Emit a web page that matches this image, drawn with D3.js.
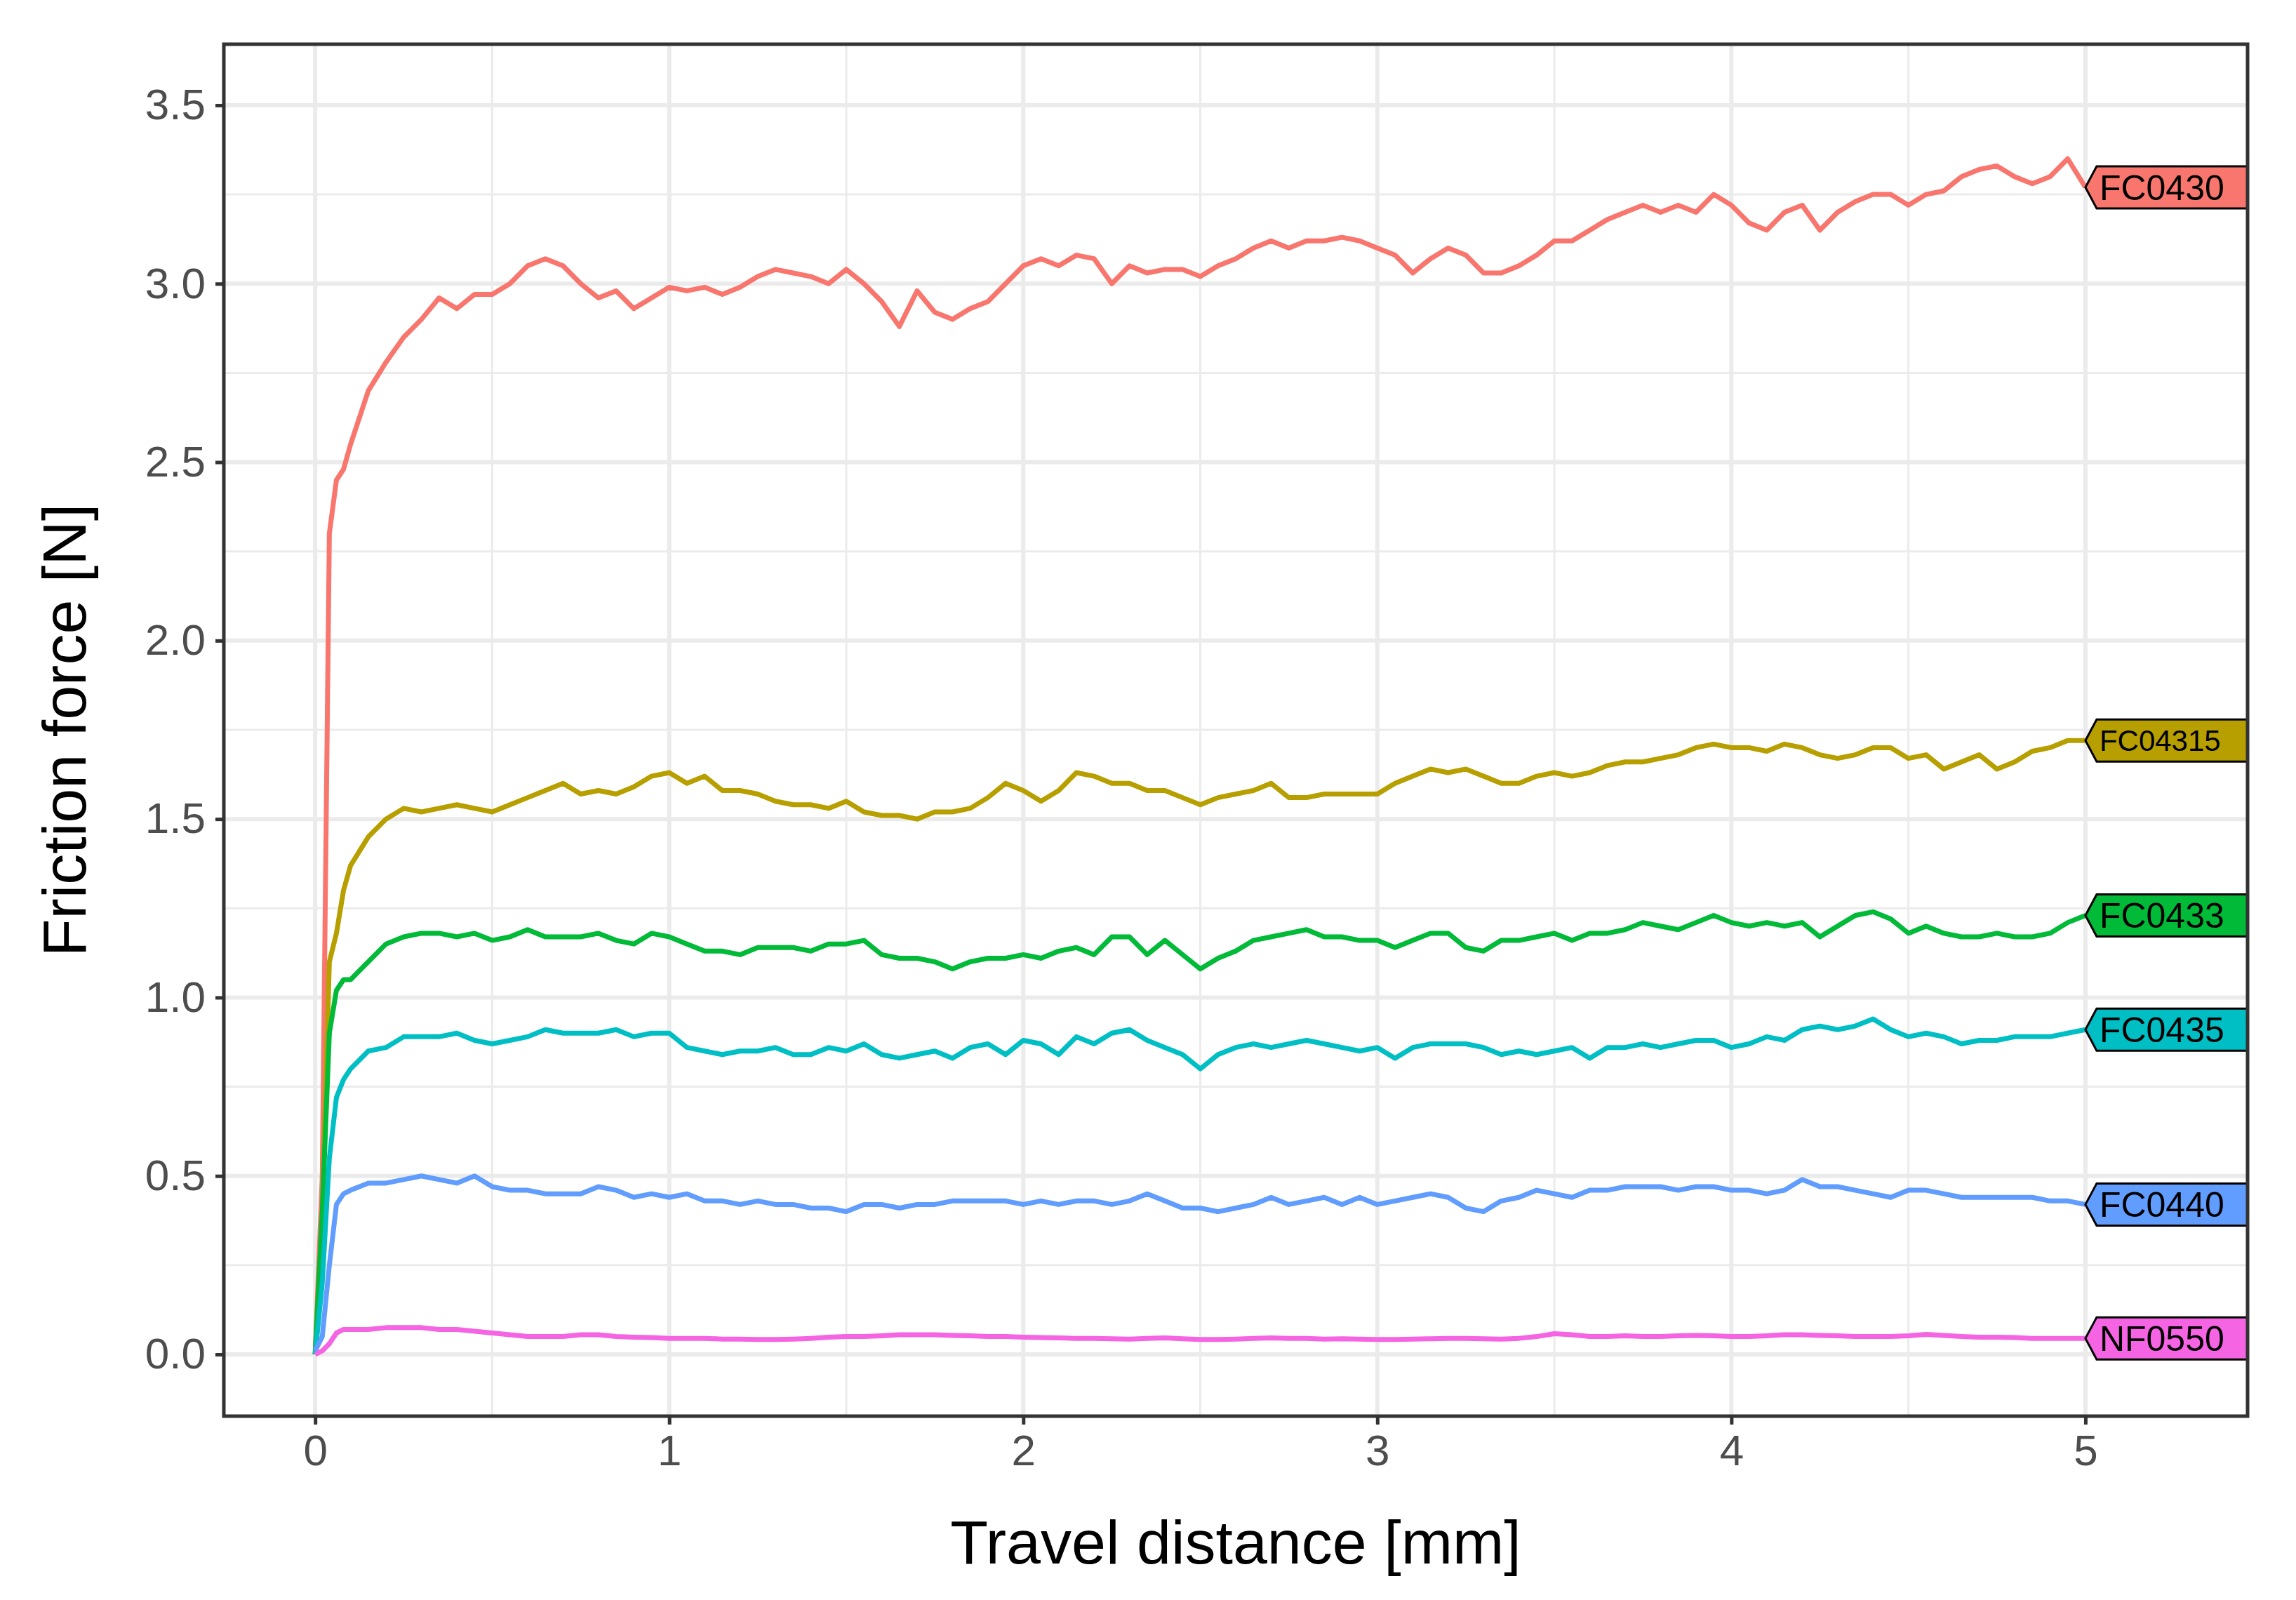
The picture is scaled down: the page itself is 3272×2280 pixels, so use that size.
<!DOCTYPE html>
<html><head><meta charset="utf-8">
<script src="https://cdn.jsdelivr.net/npm/d3@7"></script>
<style>body{margin:0;background:#fff}svg{display:block}</style>
</head><body><svg id="c" width="3272" height="2280"></svg>
<script>
const seriesNames = ["FC0430","FC04315","FC0433","FC0435","FC0440","NF0550"];
const seriesColors = ["#F8766D","#B79F00","#00BA38","#00BFC4","#619CFF","#F564E3"];
const rampX = [0,0.02,0.04,0.06,0.08];
const mainX = d3.range(0.1, 5.0001, 0.05);
const FC0430 = [0,0.5,2.3,2.45,2.48,
2.55,2.7,2.78,2.85,2.9,2.96,2.93,2.97,2.97,3.0,3.05,3.07,3.05,3.0,2.96,2.98,2.93,2.96,2.99,2.98,
2.99,2.97,2.99,3.02,3.04,3.03,3.02,3.0,3.04,3.0,2.95,2.88,2.98,2.92,2.9,2.93,2.95,3.0,3.05,3.07,
3.05,3.08,3.07,3.0,3.05,3.03,3.04,3.04,3.02,3.05,3.07,3.1,3.12,3.1,3.12,3.12,3.13,3.12,3.1,3.08,
3.03,3.07,3.1,3.08,3.03,3.03,3.05,3.08,3.12,3.12,3.15,3.18,3.2,3.22,3.2,3.22,3.2,3.25,3.22,3.17,
3.15,3.2,3.22,3.15,3.2,3.23,3.25,3.25,3.22,3.25,3.26,3.3,3.32,3.33,3.3,3.28,3.3,3.35,3.27];
const FC04315 = [0,0.4,1.1,1.18,1.3,
1.37,1.45,1.5,1.53,1.52,1.53,1.54,1.53,1.52,1.54,1.56,1.58,1.6,1.57,1.58,1.57,1.59,1.62,1.63,1.6,
1.62,1.58,1.58,1.57,1.55,1.54,1.54,1.53,1.55,1.52,1.51,1.51,1.5,1.52,1.52,1.53,1.56,1.6,1.58,1.55,
1.58,1.63,1.62,1.6,1.6,1.58,1.58,1.56,1.54,1.56,1.57,1.58,1.6,1.56,1.56,1.57,1.57,1.57,1.57,1.6,
1.62,1.64,1.63,1.64,1.62,1.6,1.6,1.62,1.63,1.62,1.63,1.65,1.66,1.66,1.67,1.68,1.7,1.71,1.7,1.7,
1.69,1.71,1.7,1.68,1.67,1.68,1.7,1.7,1.67,1.68,1.64,1.66,1.68,1.64,1.66,1.69,1.7,1.72,1.72];
const FC0433 = [0,0.4,0.9,1.02,1.05,
1.05,1.1,1.15,1.17,1.18,1.18,1.17,1.18,1.16,1.17,1.19,1.17,1.17,1.17,1.18,1.16,1.15,1.18,1.17,1.15,
1.13,1.13,1.12,1.14,1.14,1.14,1.13,1.15,1.15,1.16,1.12,1.11,1.11,1.1,1.08,1.1,1.11,1.11,1.12,1.11,
1.13,1.14,1.12,1.17,1.17,1.12,1.16,1.12,1.08,1.11,1.13,1.16,1.17,1.18,1.19,1.17,1.17,1.16,1.16,1.14,
1.16,1.18,1.18,1.14,1.13,1.16,1.16,1.17,1.18,1.16,1.18,1.18,1.19,1.21,1.2,1.19,1.21,1.23,1.21,1.2,
1.21,1.2,1.21,1.17,1.2,1.23,1.24,1.22,1.18,1.2,1.18,1.17,1.17,1.18,1.17,1.17,1.18,1.21,1.23];
const FC0435 = [0,0.2,0.55,0.72,0.77,
0.8,0.85,0.86,0.89,0.89,0.89,0.9,0.88,0.87,0.88,0.89,0.91,0.9,0.9,0.9,0.91,0.89,0.9,0.9,0.86,
0.85,0.84,0.85,0.85,0.86,0.84,0.84,0.86,0.85,0.87,0.84,0.83,0.84,0.85,0.83,0.86,0.87,0.84,0.88,0.87,
0.84,0.89,0.87,0.9,0.91,0.88,0.86,0.84,0.8,0.84,0.86,0.87,0.86,0.87,0.88,0.87,0.86,0.85,0.86,0.83,
0.86,0.87,0.87,0.87,0.86,0.84,0.85,0.84,0.85,0.86,0.83,0.86,0.86,0.87,0.86,0.87,0.88,0.88,0.86,0.87,
0.89,0.88,0.91,0.92,0.91,0.92,0.94,0.91,0.89,0.9,0.89,0.87,0.88,0.88,0.89,0.89,0.89,0.9,0.91];
const FC0440 = [0.01,0.05,0.25,0.42,0.45,
0.46,0.48,0.48,0.49,0.5,0.49,0.48,0.5,0.47,0.46,0.46,0.45,0.45,0.45,0.47,0.46,0.44,0.45,0.44,0.45,
0.43,0.43,0.42,0.43,0.42,0.42,0.41,0.41,0.4,0.42,0.42,0.41,0.42,0.42,0.43,0.43,0.43,0.43,0.42,0.43,
0.42,0.43,0.43,0.42,0.43,0.45,0.43,0.41,0.41,0.4,0.41,0.42,0.44,0.42,0.43,0.44,0.42,0.44,0.42,0.43,
0.44,0.45,0.44,0.41,0.4,0.43,0.44,0.46,0.45,0.44,0.46,0.46,0.47,0.47,0.47,0.46,0.47,0.47,0.46,0.46,
0.45,0.46,0.49,0.47,0.47,0.46,0.45,0.44,0.46,0.46,0.45,0.44,0.44,0.44,0.44,0.44,0.43,0.43,0.42];
const NF0550 = [0,0.01,0.03,0.06,0.07,
0.07,0.07,0.075,0.075,0.075,0.07,0.07,0.065,0.06,0.055,0.05,0.05,0.05,0.055,0.055,0.05,0.048,0.047,0.045,
0.045,0.045,0.043,0.043,0.042,0.042,0.043,0.045,0.048,
0.05,0.05,0.052,0.055,0.055,0.055,0.053,0.052,0.05,0.05,0.048,
0.047,0.046,0.045,0.045,0.044,0.043,0.045,0.046,0.044,0.042,
0.042,0.043,0.045,0.046,0.045,0.045,0.043,0.044,0.043,0.042,
0.042,0.043,0.044,0.045,0.045,0.044,0.043,0.045,0.05,0.058,
0.055,0.05,0.05,0.052,0.05,0.05,0.052,0.053,0.052,0.05,
0.05,0.052,0.055,0.055,0.053,0.052,0.05,0.05,0.05,0.052,
0.056,0.053,0.05,0.048,0.048,0.047,0.045,0.045,0.045,0.045];
const seriesValues = [FC0430,FC04315,FC0433,FC0435,FC0440,NF0550];
const xTicks = [0,1,2,3,4,5];
const yTicks = [0,0.5,1,1.5,2,2.5,3,3.5];

const svg = d3.select("#c");
const L=319,R=3203,T=63,B=2018;
const x = d3.scaleLinear().domain([-0.258,5.458]).range([L,R]);
const y = d3.scaleLinear().domain([-0.173,3.671]).range([B,T]);
const allX = rampX.concat(mainX);
const FONT="Liberation Sans, Arial, sans-serif";

svg.append("defs").append("clipPath").attr("id","pc").append("rect")
  .attr("x",L).attr("y",T).attr("width",R-L).attr("height",B-T);
const g = svg.append("g");
d3.range(-0.5,5.6,1).forEach(v=>{ if(x(v)>L&&x(v)<R) g.append("line").attr("x1",x(v)).attr("x2",x(v)).attr("y1",T).attr("y2",B).attr("stroke","#EBEBEB").attr("stroke-width",3);});
d3.range(0.25,3.6,0.5).forEach(v=>g.append("line").attr("x1",L).attr("x2",R).attr("y1",y(v)).attr("y2",y(v)).attr("stroke","#EBEBEB").attr("stroke-width",3));
xTicks.forEach(v=>g.append("line").attr("x1",x(v)).attr("x2",x(v)).attr("y1",T).attr("y2",B).attr("stroke","#EBEBEB").attr("stroke-width",6));
yTicks.forEach(v=>g.append("line").attr("x1",L).attr("x2",R).attr("y1",y(v)).attr("y2",y(v)).attr("stroke","#EBEBEB").attr("stroke-width",6));

const line = d3.line().x(d=>x(d[0])).y(d=>y(d[1]));
const lines = svg.append("g").attr("clip-path","url(#pc)");
const labels = svg.append("g").attr("clip-path","url(#pc)");
seriesValues.forEach((vals,i)=>{
  const n=Math.min(vals.length,allX.length);
  const pts=d3.range(n).map(k=>[allX[k],vals[k]]);
  lines.append("path").datum(pts).attr("d",line).attr("fill","none")
    .attr("stroke",seriesColors[i]).attr("stroke-width",7).attr("stroke-linejoin","round");
  const last=pts[n-1], lx=x(last[0]), ly=y(last[1]), h=30, tip=16;
  labels.append("path").attr("d",`M${lx},${ly} L${lx+tip},${ly-h} L${R+20},${ly-h} L${R+20},${ly+h} L${lx+tip},${ly+h} Z`)
    .attr("fill",seriesColors[i]).attr("stroke","#000").attr("stroke-width",3);
  labels.append("text").attr("x",lx+20).attr("y",ly).attr("dy","0.36em")
    .attr("font-family",FONT).attr("font-size",seriesNames[i].length>6?42:50)
    .attr("fill","#000").text(seriesNames[i]);
});
svg.append("rect").attr("x",L).attr("y",T).attr("width",R-L).attr("height",B-T)
  .attr("fill","none").attr("stroke","#333").attr("stroke-width",5);

const ax = svg.append("g").attr("transform",`translate(0,${B})`)
  .call(d3.axisBottom(x).tickValues(xTicks).tickFormat(d3.format("d")).tickSize(12).tickPadding(14));
const ay = svg.append("g").attr("transform",`translate(${L},0)`)
  .call(d3.axisLeft(y).tickValues(yTicks).tickFormat(d3.format(".1f")).tickSize(12).tickPadding(14));
[ax,ay].forEach(a=>{a.select(".domain").remove();
  a.selectAll("line").attr("stroke","#333").attr("stroke-width",5);
  a.selectAll("text").attr("font-family",FONT).attr("font-size",62).attr("fill","#4D4D4D");});
svg.append("text").attr("x",(L+R)/2).attr("y",2228).attr("text-anchor","middle")
  .attr("font-family",FONT).attr("font-size",88).attr("fill","#000").text("Travel distance [mm]");
svg.append("text").attr("transform",`translate(122,${(T+B)/2}) rotate(-90)`).attr("text-anchor","middle")
  .attr("font-family",FONT).attr("font-size",88).attr("fill","#000").text("Friction force [N]");
</script></body></html>
